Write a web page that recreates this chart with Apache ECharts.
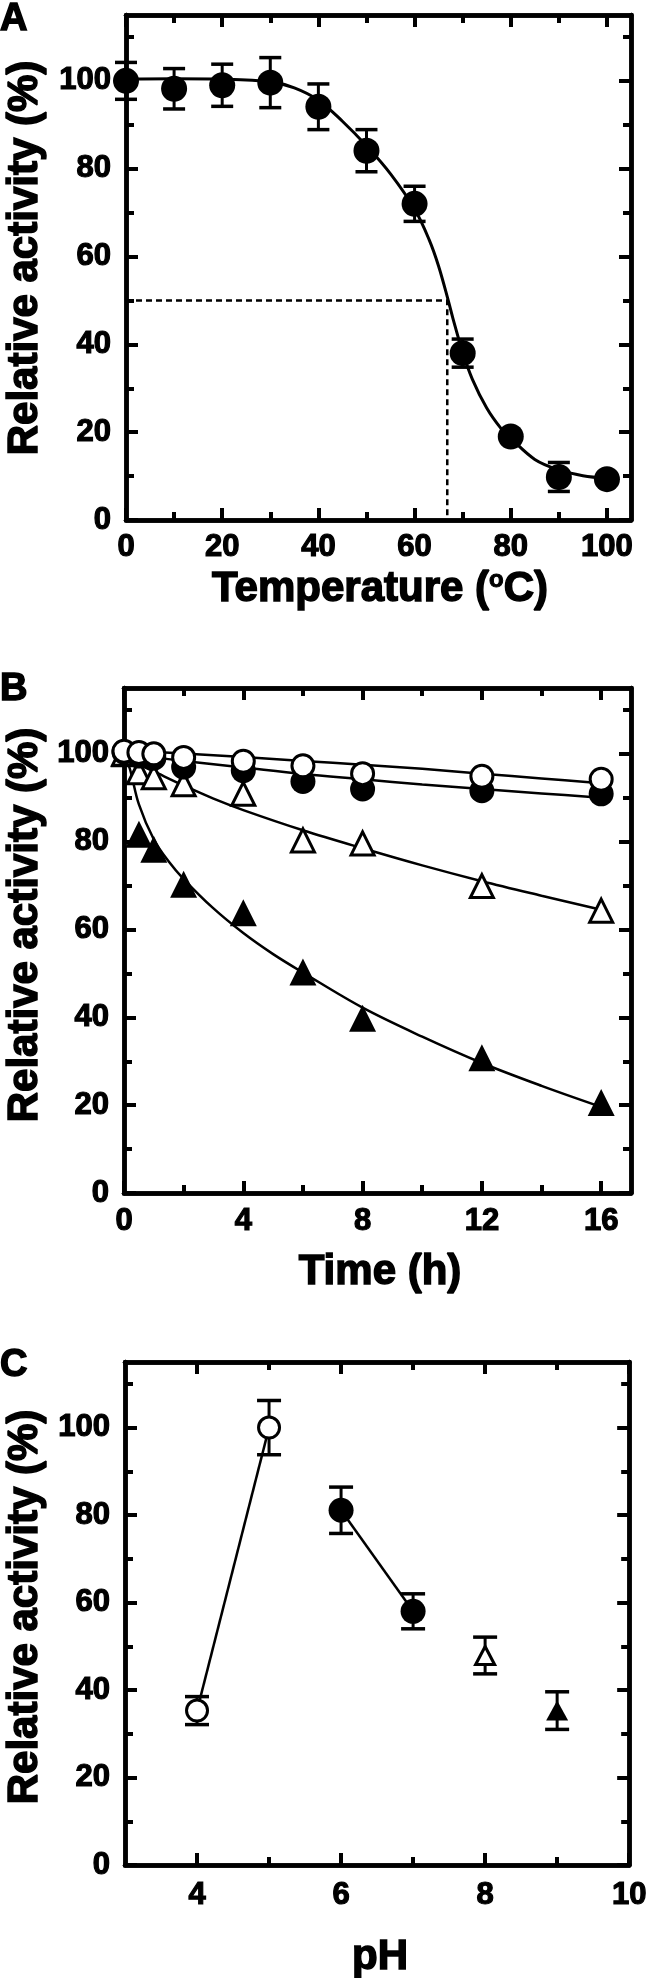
<!DOCTYPE html>
<html><head><meta charset="utf-8">
<script src="https://cdn.jsdelivr.net/npm/echarts@6/dist/echarts.min.js"></script>
<style>html,body{margin:0;padding:0;background:#fff}#c{width:650px;height:1978px}</style>
</head><body><div id="c"></div>
<script>
// ---------- Panel A: thermal activity ----------
const tempX = [0, 10, 20, 30, 40, 50, 60, 70, 80, 90, 100];
const tempY = [100, 98.2, 99.0, 99.6, 94.1, 84.1, 72.0, 38.0, 19.0, 9.8, 9.3];
const tempErr = [4.2, 4.6, 4.8, 5.7, 5.2, 4.8, 4.0, 3.2, 0, 3.3, 0];
const tempFitX = [0, 10, 20, 30, 35, 40, 45, 50, 55, 60, 63, 65, 67, 68, 70, 72, 75, 78, 80, 85, 90, 95, 100];
const tempFitY = [100.4, 100.5, 100.4, 99.8, 98.4, 95.6, 90.8, 85.2, 78.8, 70.8, 63.9, 57.8, 50, 45.8, 38.2, 32.1, 25.5, 20.8, 18.6, 13.8, 11.4, 10.1, 9.5];
const t50X = [0, 66.8, 66.8];
const t50Y = [50, 50, 0];
const tempXTicks = [0, 20, 40, 60, 80, 100];
const tempXMinor = [10, 30, 50, 70, 90];

// ---------- Panel B: thermal stability over time ----------
const timeX = [0, 0.5, 1, 2, 4, 6, 8, 12, 16];
const openCircleY = [100.6, 100.3, 100.0, 99.2, 98.3, 97.3, 95.5, 94.9, 94.2];
const filledCircleY = [100.4, 99.5, 99.0, 97.0, 96.2, 93.7, 92.0, 91.6, 90.9];
const openTriY = [100, 95.8, 94.7, 93.1, 90.9, 80.3, 79.6, 69.9, 64.3];
const filledTriY = [100, 81.7, 78.3, 70.3, 63.8, 50.3, 39.8, 30.8, 20.6];
const fitCircX = [0, 2, 4, 6, 8, 10, 12, 14, 16];
const fitOpenCircY = [100.8, 100.1, 99.3, 98.4, 97.5, 96.6, 95.5, 94.4, 93.3];
const fitFilledCircX = [0, 1, 2, 4, 6, 8, 10, 12, 14, 16];
const fitFilledCircY = [100.2, 99.2, 98.4, 96.9, 95.4, 94.2, 93.0, 92.0, 91.0, 90.0];
const fitOpenTriX = [0, 0.25, 0.5, 1, 2, 3, 4, 6, 8, 10, 12, 14, 16];
const fitOpenTriY = [100, 98.8, 97.6, 96, 92.8, 89.8, 87.2, 82.6, 78.5, 74.6, 71, 67.7, 64.5];
const fitFilledTriX = [0, 0.2, 0.5, 1, 1.5, 2, 3, 4, 5, 6, 8, 10, 12, 14, 16];
const fitFilledTriY = [100, 96.5, 88.5, 80.5, 75.5, 71.5, 64.8, 59.2, 54.4, 50.2, 42.2, 35.6, 29.6, 24.4, 19.6];
const timeXTicks = [0, 4, 8, 12, 16];
const timeXMinor = [2, 6, 10, 14];

// ---------- Panel C: pH stability ----------
const phOpenCircX = [4, 5];
const phOpenCircY = [35.3, 100];
const phOpenCircErr = [3.2, 6.2];
const phFilledCircX = [6, 7];
const phFilledCircY = [81.1, 58.0];
const phFilledCircErr = [5.3, 4.0];
const phOpenTriX = [8];
const phOpenTriY = [47.9];
const phOpenTriErr = [4.2];
const phFilledTriX = [9];
const phFilledTriY = [35.3];
const phFilledTriErr = [4.3];
const phXTicks = [4, 6, 8, 10];
const phXMinor = [5, 7, 9];

// shared y ticks
const yTicks = [0, 20, 40, 60, 80, 100];
const yMinor = [10, 30, 50, 70, 90, 110];

const FF = '"Liberation Sans", Arial, Helvetica, sans-serif';
const zip = (xs, ys) => xs.map((x, i) => [x, ys[i]]);
const zip3 = (xs, ys, es) => xs.map((x, i) => [x, ys[i], es[i]]);

const grids = [
  {left: 126, top: 15, width: 505, height: 505},
  {left: 124, top: 688, width: 507, height: 505},
  {left: 125, top: 1362, width: 508, height: 503}
];

function axis(g, min, max, ticks, len, pos, labels, margin) {
  const a = {
    type: 'value', gridIndex: g, min: min, max: max, position: pos,
    axisLine: {show: true, onZero: false, lineStyle: {color: '#000', width: 4.5}},
    axisTick: {show: true, inside: true, length: len, customValues: ticks, lineStyle: {color: '#000', width: 4}},
    axisLabel: {show: false},
    splitLine: {show: false}
  };
  if (labels) {
    a.axisLabel = {show: true, customValues: ticks, margin: margin, fontSize: 31, fontWeight: 'bold', fontFamily: FF,
      color: '#000', textBorderColor: '#000', textBorderWidth: 1.2};
  }
  return a;
}

const xAxes = [], yAxes = [];
const xSpec = [
  [0, 105, tempXTicks, tempXMinor, 12],
  [0, 17, timeXTicks, timeXMinor, 13],
  [3, 10, phXTicks, phXMinor, 15]
];
xSpec.forEach((s, g) => {
  xAxes.push(axis(g, s[0], s[1], s[2], 12, 'bottom', true, s[4]));
  xAxes.push(axis(g, s[0], s[1], s[3], 8, 'bottom', false));
  xAxes.push(axis(g, s[0], s[1], s[2], 12, 'top', false));
  xAxes.push(axis(g, s[0], s[1], s[3], 8, 'top', false));
  yAxes.push(axis(g, 0, 115, yTicks, 12, 'left', true, 15));
  yAxes.push(axis(g, 0, 115, yMinor, 8, 'left', false));
  yAxes.push(axis(g, 0, 115, yTicks, 12, 'right', false));
  yAxes.push(axis(g, 0, 115, yMinor, 8, 'right', false));
});

function errBars(g, data, hw) {
  return {
    type: 'custom', xAxisIndex: 4 * g, yAxisIndex: 4 * g, z: 2, clip: false,
    data: data, encode: {x: 0, y: 1},
    renderItem: function (params, api) {
      const x = api.value(0), y = api.value(1), e = api.value(2);
      if (!e) return {type: 'group', children: []};
      const t = api.coord([x, y + e]), b = api.coord([x, y - e]);
      return {type: 'group', children: [
        {type: 'line', shape: {x1: t[0], y1: t[1], x2: b[0], y2: b[1]}, style: {stroke: '#000', lineWidth: 3}},
        {type: 'line', shape: {x1: t[0] - hw, y1: t[1], x2: t[0] + hw, y2: t[1]}, style: {stroke: '#000', lineWidth: 3.5}},
        {type: 'line', shape: {x1: b[0] - hw, y1: b[1], x2: b[0] + hw, y2: b[1]}, style: {stroke: '#000', lineWidth: 3.5}}
      ]};
    }
  };
}
function fit(g, data, w, smooth) {
  return {type: 'line', xAxisIndex: 4 * g, yAxisIndex: 4 * g, data: data, showSymbol: false, symbol: 'none',
    smooth: smooth, lineStyle: {color: '#000', width: w}, z: 2, clip: false, silent: true};
}
function pts(g, data, symbol, size, filled, z, bw) {
  return {type: 'scatter', xAxisIndex: 4 * g, yAxisIndex: 4 * g, data: data, symbol: symbol, symbolSize: size, z: z, clip: false,
    itemStyle: filled ? {color: '#000', opacity: 1} : {color: '#fff', borderColor: '#000', borderWidth: bw || 3, opacity: 1}};
}

const series = [
  // Panel A
  {type: 'line', xAxisIndex: 0, yAxisIndex: 0, data: zip(t50X, t50Y), symbol: 'none', z: 1,
   lineStyle: {color: '#000', width: 2.5, type: [6, 4]}},
  fit(0, zip(tempFitX, tempFitY), 3, 0.35),
  errBars(0, zip3(tempX, tempY, tempErr), 11),
  pts(0, zip(tempX, tempY), 'circle', 26, true, 3),
  // Panel B
  fit(1, zip(fitCircX, fitOpenCircY), 2.5, 0.35),
  fit(1, zip(fitFilledCircX, fitFilledCircY), 2.5, 0.35),
  fit(1, zip(fitOpenTriX, fitOpenTriY), 2.5, 0.35),
  fit(1, zip(fitFilledTriX, fitFilledTriY), 2.5, 0.35),
  pts(1, zip(timeX, filledTriY), 'triangle', 27, true, 3),
  pts(1, zip(timeX, openTriY), 'triangle', 23, false, 4, 3),
  pts(1, zip(timeX, filledCircleY), 'circle', 25, true, 5),
  pts(1, zip(timeX, openCircleY), 'circle', 22, false, 6, 3),
  // Panel C
  fit(2, zip(phOpenCircX, phOpenCircY), 2.5, false),
  fit(2, zip(phFilledCircX, phFilledCircY), 2.5, false),
  errBars(2, zip3(phOpenCircX, phOpenCircY, phOpenCircErr), 12),
  errBars(2, zip3(phFilledCircX, phFilledCircY, phFilledCircErr), 12),
  errBars(2, zip3(phOpenTriX, phOpenTriY, phOpenTriErr), 12),
  errBars(2, zip3(phFilledTriX, phFilledTriY, phFilledTriErr), 12),
  pts(2, zip(phOpenCircX, phOpenCircY), 'circle', 21, false, 4, 3),
  pts(2, zip(phFilledCircX, phFilledCircY), 'circle', 25, true, 4),
  pts(2, zip(phOpenTriX, phOpenTriY), 'triangle', [19, 18], false, 4, 3),
  pts(2, zip(phFilledTriX, phFilledTriY), 'triangle', [22, 20], true, 4)
];

function txt(x, y, text, size, rot, align, rich, sw) {
  const o = {type: 'text', x: x, y: y, rotation: rot || 0, z: 10,
    style: {text: text, fontSize: size, fontWeight: 'bold', fontFamily: FF, fill: '#000', stroke: '#000', lineWidth: sw || 1.5,
      align: align || 'center', verticalAlign: 'middle'}};
  if (rich) o.style.rich = rich;
  return o;
}
const supRich = {
  sup: {fontSize: 24, fontWeight: 'bold', fontFamily: FF, fill: '#000', stroke: '#000', lineWidth: 1, verticalAlign: 'top', padding: [0, 0, 14, 0]}
};
const graphic = [
  txt(0, 20, 'A', 38, 0, 'left'),
  txt(0, 690, 'B', 38, 0, 'left'),
  txt(0, 1366, 'C', 38, 0, 'left'),
  txt(25, 258, 'Relative activity (%)', 42, Math.PI / 2),
  txt(25, 925, 'Relative activity (%)', 42, Math.PI / 2),
  txt(25, 1607, 'Relative activity (%)', 42, Math.PI / 2),
  txt(380, 589, 'Temperature ({sup|o}C)', 42, 0, 'center', supRich),
  txt(380, 1272, 'Time (h)', 42),
  txt(380, 1957, 'pH', 42)
];

const chart = echarts.init(document.getElementById('c'), null, {renderer: 'canvas'});
chart.setOption({
  animation: false,
  backgroundColor: '#fff',
  grid: grids,
  xAxis: xAxes,
  yAxis: yAxes,
  series: series,
  graphic: graphic
});
</script></body></html>
